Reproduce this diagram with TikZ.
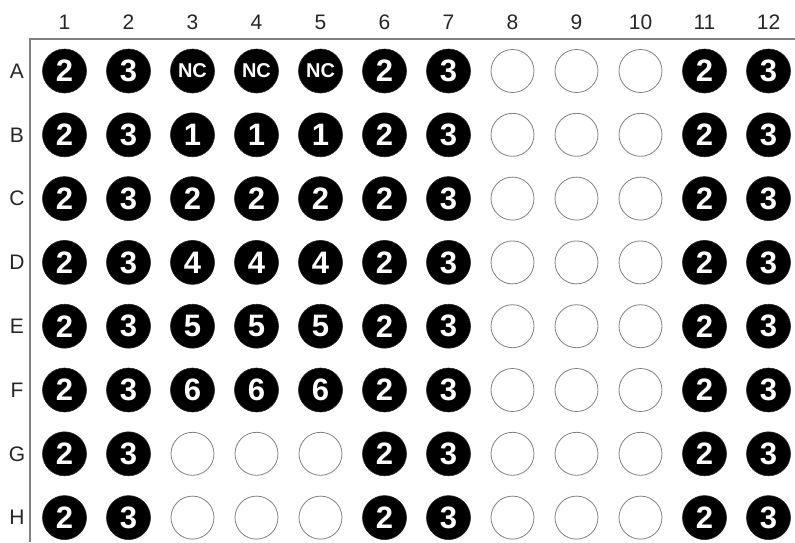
\documentclass[tikz,border=0pt]{standalone}
\usepackage{fontspec}
\setmainfont{Liberation Sans}
\newcommand\mywell[4]{% #1 row letter, #2 row index, #3 column, #4 value
  \edef\tmpv{#4}\def\tmpe{e}\def\tmpn{NC}%
  \ifx\tmpv\tmpe
    \node[emptywell] (w#1#3) at ({64.5+64*(#3-1)},{71+63.8*(#2-1)}) {};
  \else\ifx\tmpv\tmpn
    \node[ncwell] (w#1#3) at ({64.5+64*(#3-1)},{71+63.8*(#2-1)}) {NC};
  \else
    \node[fullwell] (w#1#3) at ({64.5+64*(#3-1)},{71+63.8*(#2-1)}) {#4};
  \fi\fi}
\begin{document}
\begin{tikzpicture}[x=1pt,y=-1pt,
  emptywell/.style={circle,draw=black!50,line width=0.8pt,minimum size=43pt,inner sep=0pt},
  fullwell/.style={circle,fill=black,draw=black!85,line width=0.6pt,minimum size=44pt,inner sep=0pt,
    text=white,font=\fontsize{31}{31}\selectfont\bfseries},
  ncwell/.style={fullwell,font=\fontsize{20}{20}\selectfont\bfseries},
  lab/.style={font=\fontsize{21}{21}\selectfont,text=black!85},
  frame/.style={draw=black!50,line width=1.1pt}]
\useasboundingbox (0,0) rectangle (795,542);
% frame
\coordinate (fTL) at (30,39);
\coordinate (fTR) at (795,39);
\coordinate (fBL) at (30,542);
\draw[frame] (fTR) -- (fTL) -- (fBL);
% column labels
\foreach \c in {1,...,12} \node[lab] (col\c) at ({64.5+64*(\c-1)},22) {\c};
% row labels
\foreach \r [count=\j] in {A,B,C,D,E,F,G,H} \node[lab] (row\r) at (17,{71+63.8*(\j-1)}) {\r};
% wells
\foreach \v [count=\c] in {2,3,NC,NC,NC,2,3,e,e,e,2,3} {\mywell{A}{1}{\c}{\v}}
\foreach \v [count=\c] in {2,3,1,1,1,2,3,e,e,e,2,3} {\mywell{B}{2}{\c}{\v}}
\foreach \v [count=\c] in {2,3,2,2,2,2,3,e,e,e,2,3} {\mywell{C}{3}{\c}{\v}}
\foreach \v [count=\c] in {2,3,4,4,4,2,3,e,e,e,2,3} {\mywell{D}{4}{\c}{\v}}
\foreach \v [count=\c] in {2,3,5,5,5,2,3,e,e,e,2,3} {\mywell{E}{5}{\c}{\v}}
\foreach \v [count=\c] in {2,3,6,6,6,2,3,e,e,e,2,3} {\mywell{F}{6}{\c}{\v}}
\foreach \v [count=\c] in {2,3,e,e,e,2,3,e,e,e,2,3} {\mywell{G}{7}{\c}{\v}}
\foreach \v [count=\c] in {2,3,e,e,e,2,3,e,e,e,2,3} {\mywell{H}{8}{\c}{\v}}
\end{tikzpicture}
\end{document}
